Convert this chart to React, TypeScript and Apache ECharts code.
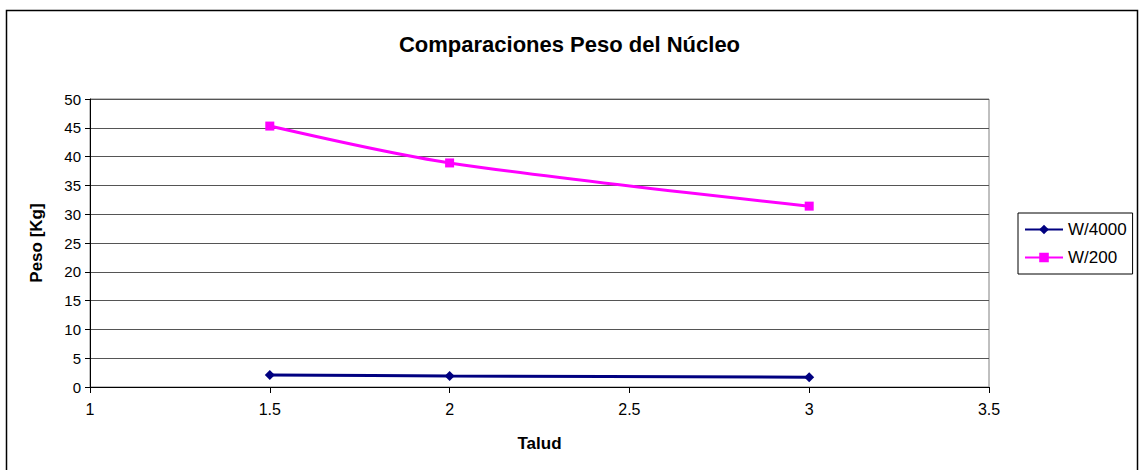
import React, { useEffect, useRef } from "react";
import * as echarts from "echarts";

const xValues = [1.5, 2, 3];
const w4000 = [2.1, 1.9, 1.7];
const w200 = [45.3, 38.9, 31.4];
const seriesNames = ["W/4000", "W/200"];
const titleText = "Comparaciones Peso del Núcleo";
const xName = "Talud";
const yName = "Peso [Kg]";

export default function App() {
  const ref = useRef<HTMLDivElement>(null);
  useEffect(() => {
    if (!ref.current) return;
    const chart = echarts.init(ref.current, undefined, { renderer: "svg" });
    const font = "Liberation Sans, Arial, sans-serif";
    chart.setOption({
      animation: false,
      backgroundColor: "#ffffff",
      textStyle: { fontFamily: font },
      title: {
        text: titleText,
        left: "center",
        top: 28,
        textStyle: { fontSize: 22, fontWeight: "bold", color: "#000", fontFamily: font },
      },
      graphic: [
        {
          type: "rect",
          shape: { x: 6.5, y: 10.5, width: 1131, height: 480 },
          style: { fill: "none", stroke: "#000", lineWidth: 1.5 },
          silent: true,
        },
      ],
      legend: {
        orient: "vertical",
        left: 1018,
        top: 213,
        padding: [8, 6, 8, 6],
        itemGap: 11,
        itemWidth: 38,
        itemHeight: 12,
        borderColor: "#000",
        borderWidth: 1,
        backgroundColor: "#fff",
        textStyle: { fontSize: 17, color: "#000", fontFamily: font },
        data: seriesNames,
      },
      grid: {
        left: 90,
        right: 150,
        top: 99,
        bottom: 83,
        show: true,
        borderColor: "#808080",
        borderWidth: 1,
        backgroundColor: "#fff",
      },
      xAxis: {
        type: "value",
        min: 1,
        max: 3.5,
        interval: 0.5,
        name: xName,
        nameLocation: "middle",
        nameGap: 48,
        nameTextStyle: { fontSize: 17, fontWeight: "bold", color: "#000", fontFamily: font },
        axisLine: { show: true, lineStyle: { color: "#000", width: 1 } },
        axisTick: { show: true, inside: false, length: 6, lineStyle: { color: "#000" } },
        axisLabel: { fontSize: 16, color: "#000", margin: 14, fontFamily: font },
        splitLine: { show: false },
      },
      yAxis: {
        type: "value",
        min: 0,
        max: 50,
        interval: 5,
        name: yName,
        nameLocation: "middle",
        nameGap: 45,
        nameRotate: 90,
        nameTextStyle: { fontSize: 17, fontWeight: "bold", color: "#000", fontFamily: font },
        axisLine: { show: true, lineStyle: { color: "#000", width: 1 } },
        axisTick: { show: true, inside: false, length: 5, lineStyle: { color: "#000" } },
        axisLabel: { fontSize: 15, color: "#000", margin: 9, fontFamily: font },
        splitLine: { show: true, lineStyle: { color: "#555", width: 1 } },
      },
      series: [
        {
          name: seriesNames[0],
          type: "line",
          data: xValues.map((x, i) => [x, w4000[i]]),
          smooth: 0.3,
          symbol: "diamond",
          symbolSize: 10,
          itemStyle: { color: "#000080" },
          lineStyle: { color: "#000080", width: 3 },
        },
        {
          name: seriesNames[1],
          type: "line",
          data: xValues.map((x, i) => [x, w200[i]]),
          smooth: 0.3,
          symbol: "rect",
          symbolSize: 9,
          itemStyle: { color: "#FF00FF" },
          lineStyle: { color: "#FF00FF", width: 3 },
        },
      ],
    });
    return () => chart.dispose();
  }, []);
  return (
    <div
      ref={ref}
      style={{ position: "absolute", left: 0, top: 0, width: 1139, height: 470 }}
    />
  );
}
